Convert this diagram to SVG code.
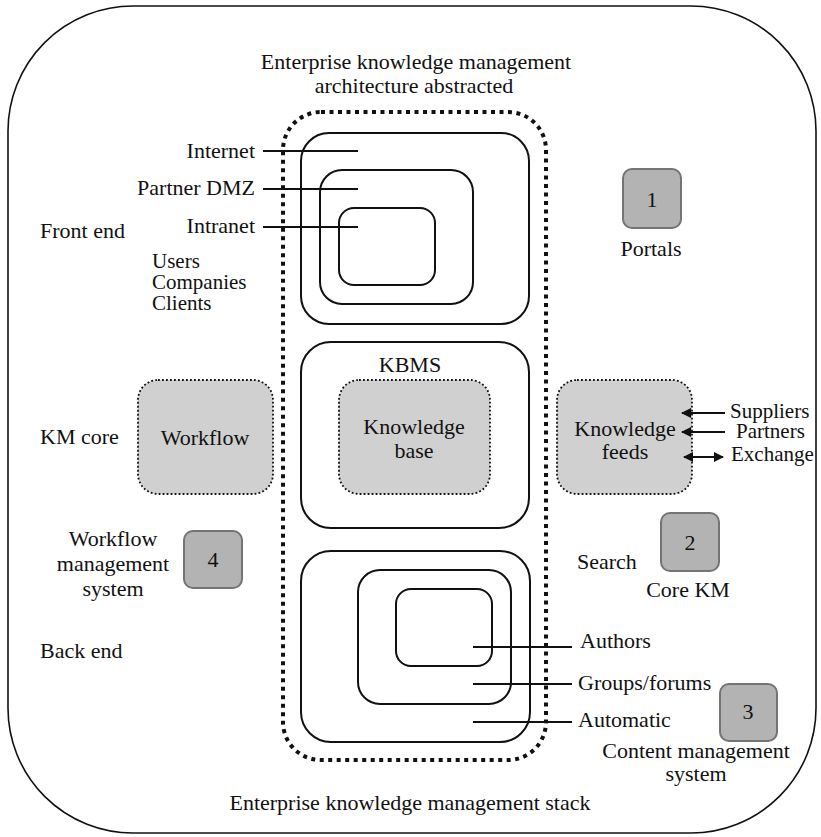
<svg xmlns="http://www.w3.org/2000/svg" width="821" height="837" viewBox="0 0 821 837" font-family="'Liberation Serif', 'DejaVu Serif', serif">
  <defs>
    <style>
      text { font-family: "Liberation Serif", "DejaVu Serif", serif; font-size: 22px; fill: #111; }
      .mid { text-anchor: middle; }
      .end { text-anchor: end; }
      .tight { font-size: 21px; }
      .frame { fill: none; stroke: #111; stroke-width: 1.6; }
      .box { fill: none; stroke: #111; stroke-width: 2; }
      .stack { fill: none; stroke: #111; stroke-width: 4; stroke-dasharray: 4 4.5; }
      .soft { fill: #d0d0d0; stroke: #111; stroke-width: 1.8; stroke-dasharray: 1.8 2.2; }
      .num { fill: #b3b3b3; stroke: #747474; stroke-width: 2; }
      .lead { stroke: #111; stroke-width: 2; fill: none; }
    </style>
    <marker id="head" viewBox="0 0 10 10" refX="9" refY="5" markerWidth="5" markerHeight="5" orient="auto-start-reverse" markerUnits="strokeWidth">
      <path d="M0,0 L10,5 L0,10 z" fill="#111"/>
    </marker>
  </defs>

  <!-- outer frame -->
  <rect class="frame" x="8" y="6" width="808" height="827" rx="125" ry="125"/>

  <!-- titles -->
  <text class="mid" x="416" y="69">Enterprise knowledge management</text>
  <text class="mid" x="414" y="93">architecture abstracted</text>
  <text class="mid" x="410" y="810">Enterprise knowledge management stack</text>

  <!-- dotted stack boundary -->
  <g id="stack-boundary">
    <rect class="stack" x="283" y="112" width="263" height="648" rx="38" ry="38"/>
  </g>

  <!-- front end layers -->
  <g id="internet">
    <rect class="box" x="301" y="133" width="228" height="191" rx="28"/>
  </g>
  <g id="partner-dmz">
    <rect class="box" x="320" y="170" width="153" height="134" rx="22"/>
  </g>
  <g id="intranet">
    <rect class="box" x="339" y="208" width="96" height="77" rx="15"/>
  </g>

  <!-- KBMS -->
  <g id="kbms">
    <rect class="box" x="301" y="342" width="228" height="186" rx="30"/>
    <text class="mid" x="410" y="372">KBMS</text>
  </g>
  <g id="knowledge-base">
    <rect class="soft" x="339" y="380" width="151" height="114" rx="20"/>
    <text class="mid" x="414" y="434">Knowledge</text>
    <text class="mid" x="414" y="458">base</text>
  </g>
  <g id="workflow">
    <rect class="soft" x="138" y="380" width="135" height="114" rx="20"/>
    <text class="mid" x="205" y="445">Workflow</text>
  </g>
  <g id="knowledge-feeds">
    <rect class="soft" x="557" y="380" width="135" height="114" rx="20"/>
    <text class="mid" x="625" y="436">Knowledge</text>
    <text class="mid" x="625" y="459">feeds</text>
  </g>

  <!-- back end layers -->
  <g id="automatic">
    <rect class="box" x="301" y="551" width="229" height="191" rx="30"/>
  </g>
  <g id="groups-forums">
    <rect class="box" x="358" y="570" width="153" height="134" rx="22"/>
  </g>
  <g id="authors">
    <rect class="box" x="396" y="589" width="96" height="77" rx="15"/>
  </g>

  <!-- numbered markers -->
  <g id="portals">
    <rect class="num" x="623" y="169" width="58" height="59" rx="9"/>
    <text class="mid" x="652" y="207">1</text>
    <text class="mid" x="651" y="256">Portals</text>
  </g>
  <g id="core-km">
    <rect class="num" x="661" y="513" width="58" height="58" rx="9"/>
    <text class="mid" x="690" y="550">2</text>
    <text class="mid" x="688" y="597">Core KM</text>
  </g>
  <g id="content-management">
    <rect class="num" x="720" y="684" width="57" height="57" rx="9"/>
    <text class="mid" x="748" y="719">3</text>
    <text class="mid" x="696" y="758">Content management</text>
    <text class="mid" x="696" y="781">system</text>
  </g>
  <g id="workflow-management">
    <rect class="num" x="184" y="531" width="58" height="57" rx="9"/>
    <text class="mid" x="213" y="567">4</text>
    <text class="mid" x="113" y="546">Workflow</text>
    <text class="mid" x="113" y="571">management</text>
    <text class="mid" x="113" y="596">system</text>
  </g>

  <!-- side labels -->
  <g id="labels">
    <text class="end" x="255" y="158">Internet</text>
    <text class="end" x="255" y="195">Partner DMZ</text>
    <text class="end" x="255" y="233">Intranet</text>
    <text x="40" y="238">Front end</text>
    <text class="tight" x="152" y="268">Users</text>
    <text class="tight" x="152" y="289">Companies</text>
    <text class="tight" x="152" y="310">Clients</text>
    <text x="40" y="444">KM core</text>
    <text x="577" y="569">Search</text>
    <text x="40" y="658">Back end</text>
    <text x="580" y="648">Authors</text>
    <text x="578" y="690">Groups/forums</text>
    <text x="578" y="727">Automatic</text>
    <text class="tight" x="730" y="418">Suppliers</text>
    <text class="tight" x="736" y="438">Partners</text>
    <text class="tight" x="731" y="461">Exchange</text>
  </g>

  <!-- connectors -->
  <g id="connectors">
    <line class="lead" x1="263" y1="151" x2="358" y2="151"/>
    <line class="lead" x1="263" y1="189" x2="358" y2="189"/>
    <line class="lead" x1="263" y1="227" x2="358" y2="227"/>
    <line class="lead" x1="473" y1="647" x2="572" y2="647"/>
    <line class="lead" x1="473" y1="684" x2="572" y2="684"/>
    <line class="lead" x1="473" y1="722" x2="572" y2="722"/>
    <line class="lead" x1="725" y1="413" x2="682" y2="413" marker-end="url(#head)"/>
    <line class="lead" x1="725" y1="432" x2="682" y2="432" marker-end="url(#head)"/>
    <line class="lead" x1="684" y1="457" x2="723" y2="457" marker-start="url(#head)" marker-end="url(#head)"/>
  </g>
</svg>
